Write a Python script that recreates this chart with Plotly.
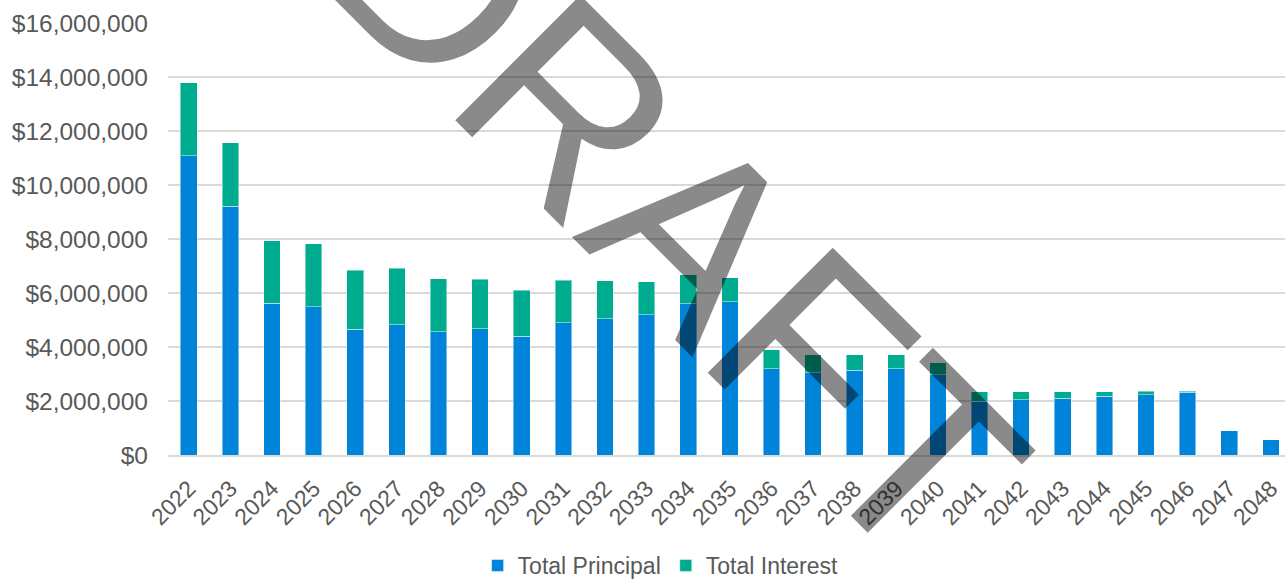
import plotly.graph_objects as go

years = [str(y) for y in range(2022, 2049)]
total = [13.78, 11.57, 7.93, 7.82, 6.84, 6.91, 6.52, 6.51, 6.11, 6.47, 6.45, 6.42,
         6.67, 6.56, 3.90, 3.72, 3.72, 3.72, 3.42, 2.35, 2.35, 2.35, 2.35, 2.36,
         2.36, 0.90, 0.56]
principal = [11.08, 9.22, 5.62, 5.49, 4.65, 4.82, 4.57, 4.68, 4.39, 4.90, 5.04, 5.20,
             5.60, 5.67, 3.19, 3.05, 3.13, 3.20, 2.98, 2.00, 2.05, 2.11, 2.18, 2.24,
             2.33, 0.90, 0.56]
principal_usd = [p * 1e6 for p in principal]
interest_usd = [(t - p) * 1e6 for t, p in zip(total, principal)]

ytick_vals = [0, 2e6, 4e6, 6e6, 8e6, 10e6, 12e6, 14e6, 16e6]

BLUE = "#0084DA"
TEAL = "#00AC8F"
TXT = "#595959"
FONT = "Liberation Sans, Arial, sans-serif"

fig = go.Figure()
fig.add_trace(go.Bar(x=years, y=principal_usd, name="Total Principal",
                     marker=dict(color=BLUE, line=dict(color="rgba(255,255,255,0.45)", width=1))))
fig.add_trace(go.Bar(x=years, y=interest_usd, name="Total Interest",
                     marker=dict(color=TEAL, line=dict(color="rgba(255,255,255,0.45)", width=1))))

fig.update_layout(
    width=1285, height=587,
    barmode="stack", bargap=0.6,
    margin=dict(l=168, r=0, t=23, b=124, pad=0),
    paper_bgcolor="white", plot_bgcolor="white",
    font=dict(family=FONT, size=23, color=TXT),
    showlegend=True,
    legend=dict(orientation="h", x=0.441, xanchor="center", y=-0.257, yanchor="middle",
                font=dict(size=23, color=TXT), itemwidth=30, traceorder="normal"),
    xaxis=dict(type="category", range=[-0.5, 26.34], tickangle=-45, automargin=False,
               showgrid=False, showline=True, linecolor="#d9d9d9", linewidth=2,
               ticks="", tickfont=dict(size=23, color=TXT), ticklabelstandoff=9),
    yaxis=dict(range=[0, 16e6], tickvals=ytick_vals, tickformat="$,.0f", automargin=False,
               showgrid=True, gridcolor="#d9d9d9", gridwidth=1.5,
               zeroline=False, showline=False, ticks="",
               tickfont=dict(size=24.5, color=TXT), ticklabelstandoff=19),
)

fig.add_annotation(text="DRAFT", xref="paper", yref="paper", x=0.454, y=0.559,
                   xanchor="center", yanchor="middle", showarrow=False, textangle=45,
                   font=dict(family=FONT, size=257, color="rgba(0,0,0,0.46)"))

fig.write_html("out.html", config={"displayModeBar": False},
               post_script="document.body.style.margin='0px';")
